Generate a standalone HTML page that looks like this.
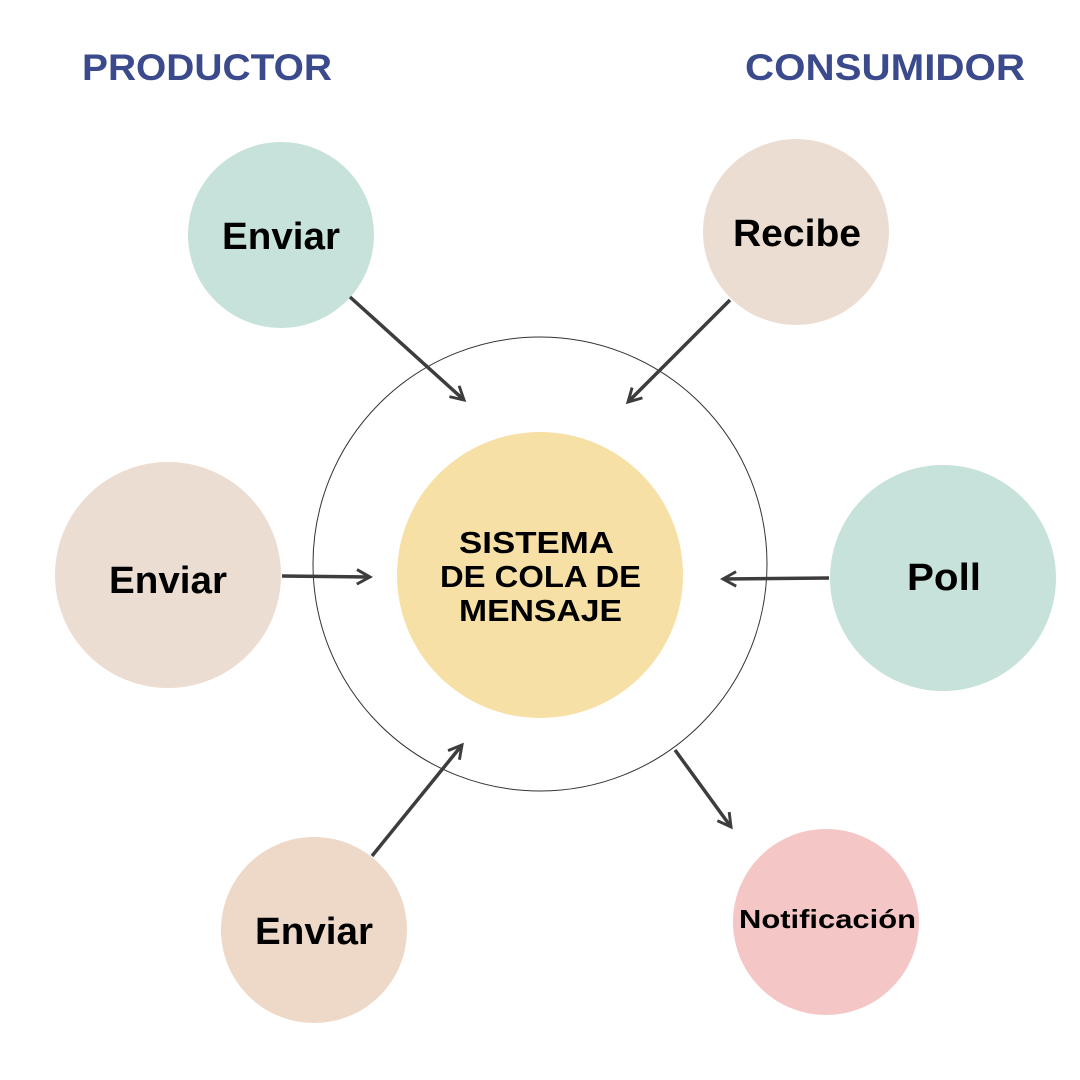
<!DOCTYPE html>
<html>
<head>
<meta charset="utf-8">
<style>
html,body{margin:0;padding:0;background:#fff;}
svg{display:block;}
text{font-family:"Liberation Sans",sans-serif;font-weight:bold;}
</style>
</head>
<body>
<svg width="1080" height="1080" viewBox="0 0 1080 1080">
<defs>
<marker id="ah" viewBox="0 0 12 12" refX="10" refY="6" markerWidth="5" markerHeight="5" orient="auto" markerUnits="strokeWidth">
<path d="M1,1 L10,6 L1,11" fill="none" stroke="#3d3d3d" stroke-width="2"/>
</marker>
</defs>
<rect width="1080" height="1080" fill="#fff"/>
<text x="82" y="80" font-size="37" fill="#3b4a8c" textLength="250" lengthAdjust="spacingAndGlyphs">PRODUCTOR</text>
<text x="745" y="80" font-size="37" fill="#3b4a8c" textLength="280" lengthAdjust="spacingAndGlyphs">CONSUMIDOR</text>

<circle cx="540" cy="564" r="227" fill="none" stroke="#333" stroke-width="1"/>
<g>
<circle cx="540" cy="575" r="143" fill="#f7e0a6"/>
<text x="459" y="553" font-size="31" textLength="155" lengthAdjust="spacingAndGlyphs">SISTEMA</text>
<text x="440" y="587" font-size="31" textLength="201" lengthAdjust="spacingAndGlyphs">DE COLA DE</text>
<text x="459" y="621" font-size="31" textLength="163" lengthAdjust="spacingAndGlyphs">MENSAJE</text>
</g>

<g>
<circle cx="281" cy="235" r="93" fill="#c7e2da"/>
<text x="222" y="249" font-size="38" textLength="118" lengthAdjust="spacingAndGlyphs">Enviar</text>
</g>
<g>
<circle cx="796" cy="232" r="93" fill="#ecddd2"/>
<text x="733" y="246" font-size="38" textLength="128" lengthAdjust="spacingAndGlyphs">Recibe</text>
</g>
<g>
<circle cx="168" cy="575" r="113" fill="#ecddd2"/>
<text x="109" y="593" font-size="38" textLength="118" lengthAdjust="spacingAndGlyphs">Enviar</text>
</g>
<g>
<circle cx="943" cy="578" r="113" fill="#c7e2da"/>
<text x="907" y="590" font-size="38" textLength="74" lengthAdjust="spacingAndGlyphs">Poll</text>
</g>
<g>
<circle cx="314" cy="930" r="93" fill="#eed8c8"/>
<text x="255" y="944" font-size="38" textLength="118" lengthAdjust="spacingAndGlyphs">Enviar</text>
</g>
<g>
<circle cx="826" cy="922" r="93" fill="#f4c6c6"/>
<text x="739" y="928" font-size="26" textLength="177" lengthAdjust="spacingAndGlyphs">Notificación</text>
</g>

<g stroke="#3d3d3d" stroke-width="3.5" fill="none" marker-end="url(#ah)">
<line x1="350" y1="297" x2="464" y2="400"/>
<line x1="730" y1="300" x2="628" y2="402"/>
<line x1="282" y1="576" x2="370" y2="577"/>
<line x1="829" y1="578" x2="723" y2="579"/>
<line x1="372" y1="856" x2="462" y2="745"/>
<line x1="675" y1="750" x2="731" y2="827"/>
</g>
</svg>
</body>
</html>
